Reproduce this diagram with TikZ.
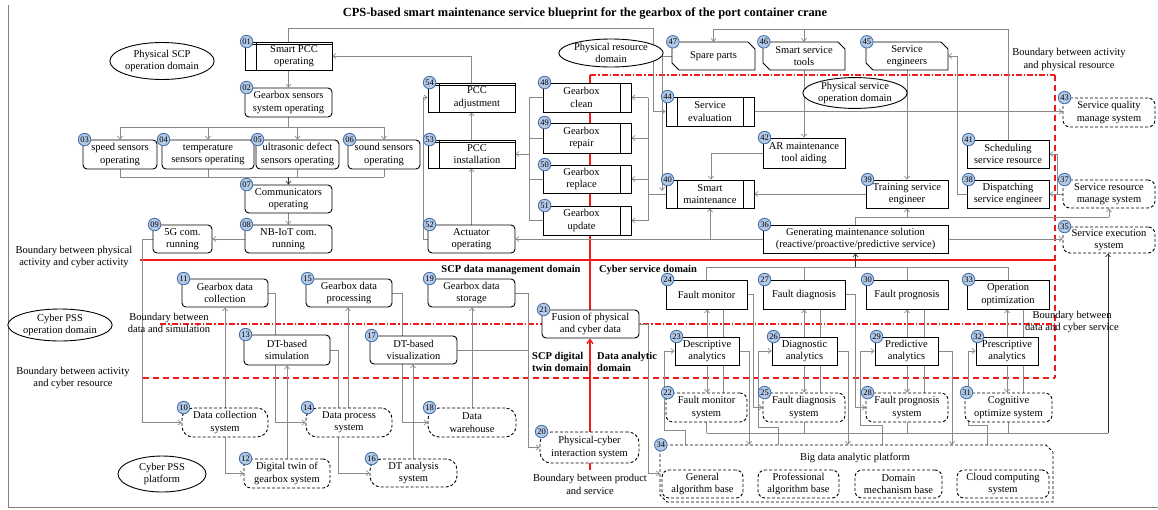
\documentclass[tikz,border=0pt]{standalone}
\usepackage{fontspec}
\setmainfont{Liberation Serif}
\usetikzlibrary{arrows.meta,shapes.geometric,calc}
\pgfdeclarelayer{bg}
\pgfsetlayers{bg,main}
\definecolor{numfill}{HTML}{B3C9E6}
\definecolor{numdraw}{HTML}{3F6DAA}
\definecolor{lgray}{HTML}{8A8A8A}
\definecolor{myred}{HTML}{F21B1B}
\newcommand\myfs{\fontsize{10.5}{12.3}\selectfont}
% [text shift] name, style, x1, y1, x2, y2, text, number
\newcommand\mkbox[9][0]{%
  \node[#3, minimum width={(#6-#4)*1pt}, minimum height={(#7-#5)*1pt}] (#2) at ({(#4+#6)/2},{(#5+#7)/2}) {};
  \node[align=center, font=\myfs, inner sep=0pt] (#2t) at ([xshift=#1pt]#2.center) {#8};
  \node[numc] (#2n) at ([xshift=2pt]#2.north west) {#9};}
\newcommand\mkpbox[7]{%
  \node[#2, minimum width={(#5-#3)*1pt}, minimum height={(#6-#4)*1pt}] (#1) at ({(#3+#5)/2},{(#4+#6)/2}) {#7};}
\newcommand\mkchbox[8]{%
  \draw[#2] (#3,#4) -- ({#5-7},#4) -- (#5,{#4+7}) -- (#5,#6) -- ({#3+7},#6) -- (#3,{#6-7}) -- cycle;
  \node[font=\myfs, align=center, inner sep=0pt, minimum width={(#5-#3)*1pt}, minimum height={(#6-#4)*1pt}] (#1) at ({(#3+#5)/2},{(#4+#6)/2}) {#7};
  \node[numc] (#1n) at ([xshift=1pt]#1.north west) {#8};}
\begin{document}
\begin{tikzpicture}[x=1pt,y=-1pt,
  base/.style={draw=black, line width=0.9pt, fill=white, align=center, inner sep=0pt, font=\myfs},
  rbox/.style={base, rounded corners=4pt},
  sbox/.style={base},
  dbox/.style={base, rounded corners=7pt, dash pattern=on 3pt off 2pt},
  dstad/.style={base, rounded corners=11pt, dash pattern=on 3pt off 2pt},
  pccbox/.style={base, path picture={
     \draw[line width=0.9pt] ([xshift=11pt]path picture bounding box.north west) -- ([xshift=11pt]path picture bounding box.south west);
     \draw[line width=0.9pt] ([yshift=-2.6pt]path picture bounding box.north west) -- ([yshift=-2.6pt]path picture bounding box.north east);}},
  rbar/.style={base, path picture={
     \draw[line width=0.9pt] ([xshift=-11pt]path picture bounding box.north east) -- ([xshift=-11pt]path picture bounding box.south east);}},
  bbar/.style={base, path picture={
     \draw[line width=0.9pt] ([xshift=-11pt]path picture bounding box.north east) -- ([xshift=-11pt]path picture bounding box.south east);
     \draw[line width=0.9pt] ([xshift=11pt]path picture bounding box.north west) -- ([xshift=11pt]path picture bounding box.south west);}},
  chs/.style={draw=black, line width=0.9pt, fill=white},
  chd/.style={chs, dash pattern=on 3pt off 2pt},
  numc/.style={circle, draw=numdraw, fill=numfill, line width=0.8pt, inner sep=0pt, minimum size=12.5pt, font=\fontsize{8.5}{8.5}\selectfont},
  ell/.style={ellipse, draw=black, line width=0.9pt, fill=white, align=center, inner sep=0pt, font=\myfs},
  lab/.style={align=center, font=\myfs, inner sep=0pt},
  blab/.style={align=left, font=\myfs\bfseries, inner sep=0pt},
  conn/.style={draw=lgray, line width=0.7pt},
  arr/.style={conn, -{Straight Barb[length=3pt,width=5pt]}},
  darr/.style={draw=black!80, line width=0.7pt, -{Straight Barb[length=3pt,width=5pt]}},
  redsolid/.style={draw=myred, line width=1.4pt},
  reddash/.style={draw=myred, line width=1.4pt, dash pattern=on 6pt off 4pt},
  reddd/.style={draw=myred, line width=1.2pt, dash pattern=on 6pt off 2pt on 1.5pt off 2pt},
]
\useasboundingbox (0,0) rectangle (1158,509);
\draw[draw=gray, line width=0.8pt] (8,5) -- (8,507) -- (1158,507);

% title and labels
\node[font=\fontsize{12.4}{14}\selectfont\bfseries, inner sep=0pt] (title) at (585,14) {CPS-based smart maintenance service blueprint for the gearbox of the port container crane};
\node[lab] (lb1) at (1069,59.5) {Boundary between activity\\and physical resource};
\node[lab] (lb2) at (74,257) {Boundary between physical\\activity and cyber activity};
\node[lab] (lb3) at (169,323) {Boundary between\\data and simulation};
\node[lab] (lb4) at (73,378) {Boundary between activity\\and cyber resource};
\node[lab] (lb5) at (1072,322) {Boundary between\\data and cyber service};
\node[lab] (lb6) at (590,484.5) {Boundary between product\\and service};
\node[blab] (lb7) at (511,270) {SCP data management domain};
\node[blab] (lb8) at (648,270) {Cyber service domain};
\node[blab, anchor=west] (lb9) at (532,362) {SCP digital\\twin domain};
\node[blab, anchor=west] (lb10) at (597,362) {Data analytic\\domain};

% ellipses
\node[ell, minimum width=88pt, minimum height=37pt] (e1) at (162,61) {Physical SCP\\operation domain};
\node[ell, minimum width=84pt, minimum height=28pt] (e2) at (611,53) {Physical resource\\domain};
\node[ell, minimum width=86pt, minimum height=28pt] (e3) at (855,93) {Physical service\\operation domain};
\node[ell, minimum width=86pt, minimum height=32pt] (e4) at (60,325) {Cyber PSS\\operation domain};
\node[ell, minimum width=88pt, minimum height=36pt] (e5) at (162,474) {Cyber PSS\\platform};

% physical SCP
\mkbox[5.5]{n01}{pccbox}{245}{42}{332}{70}{Smart PCC\\operating}{01}
\mkbox{n02}{rbox}{245}{88}{332}{117}{Gearbox sensors\\system operating}{02}
\mkbox{n03}{rbox}{83}{140}{157}{169}{speed sensors\\operating}{03}
\mkbox{n04}{rbox}{162}{140}{254}{169}{temperature\\sensors operating}{04}
\mkbox{n05}{rbox}{256}{140}{339}{169}{ultrasonic defect\\sensors operating}{05}
\mkbox{n06}{rbox}{348}{140}{420}{169}{sound sensors\\operating}{06}
\mkbox{n07}{rbox}{245}{185}{332}{213}{Communicators\\operating}{07}
\mkbox{n08}{rbox}{245}{225}{332}{253}{NB-IoT com.\\running}{08}
\mkbox{n09}{rbox}{153}{225}{212}{253}{5G com.\\running}{09}
% cyber PSS
\mkbox{n10}{dstad}{182}{408}{268}{437}{Data collection\\system}{10}
\mkbox{n11}{rbox}{182}{279}{268}{307}{Gearbox data\\collection}{11}
\mkbox{n12}{dbox}{244}{459}{330}{488}{Digital twin of\\gearbox system}{12}
\mkbox{n13}{rbox}{244}{335}{330}{365}{DT-based\\simulation}{13}
\mkbox{n14}{dstad}{306}{408}{392}{437}{Data process\\system}{14}
\mkbox{n15}{rbox}{306}{279}{392}{307}{Gearbox data\\processing}{15}
\mkbox{n16}{dstad}{370}{459}{457}{487}{DT analysis\\system}{16}
\mkbox{n17}{rbox}{370}{336}{457}{364}{DT-based\\visualization}{17}
\mkbox{n18}{dstad}{428}{408}{516}{437}{Data\\warehouse}{18}
\mkbox{n19}{rbox}{428}{279}{515}{307}{Gearbox data\\storage}{19}
\mkbox{n20}{dstad}{540}{432}{639}{463}{Physical-cyber\\interaction system}{20}
\mkbox{n21}{rbox}{542}{310}{639}{338}{Fusion of physical\\and cyber data}{21}
% cyber service
\mkbox{n22}{dbox}{666}{393}{747}{422}{Fault monitor\\system}{22}
\mkbox{n23}{sbox}{675}{337}{739}{365}{Descriptive\\analytics}{23}
\mkbox{n24}{sbox}{666}{280}{747}{309}{Fault monitor}{24}
\mkbox{n25}{dbox}{763}{393}{845}{422}{Fault diagnosis\\system}{25}
\mkbox{n26}{sbox}{772}{337}{837}{365}{Diagnostic\\analytics}{26}
\mkbox{n27}{sbox}{763}{280}{845}{309}{Fault diagnosis}{27}
\mkbox{n28}{dbox}{866}{393}{948}{422}{Fault prognosis\\system}{28}
\mkbox{n29}{sbox}{875}{337}{938}{365}{Predictive\\analytics}{29}
\mkbox{n30}{sbox}{866}{280}{948}{309}{Fault prognosis}{30}
\mkbox{n31}{dbox}{965}{393}{1052}{422}{Cognitive\\optimize system}{31}
\mkbox{n32}{sbox}{976}{337}{1038}{365}{Prescriptive\\analytics}{32}
\mkbox{n33}{sbox}{967}{280}{1049}{309}{Operation\\optimization}{33}
\mkchbox{n34}{chd}{660}{445}{1053}{502}{}{34}
\node[lab] (n34t) at (855,458) {Big data analytic platform};
\mkpbox{nga}{dbox}{662}{470}{743}{498}{General\\algorithm base}
\mkpbox{npa}{dbox}{758}{470}{839}{498}{Professional\\algorithm base}
\mkpbox{ndm}{dbox}{855}{470}{942}{498}{Domain\\mechanism base}
\mkpbox{ncc}{dbox}{957}{470}{1049}{498}{Cloud computing\\system}
% physical service
\mkbox{n35}{dbox}{1063}{227}{1155}{253}{Service execution\\system}{35}
\mkbox{n36}{sbox}{763}{225}{948}{253}{Generating maintenance solution\\(reactive/proactive/predictive service)}{36}
\mkbox{n37}{dbox}{1063}{180}{1155}{208}{Service resource\\manage system}{37}
\mkbox{n38}{sbox}{967}{180}{1049}{208}{Dispatching\\service engineer}{38}
\mkbox{n39}{sbox}{866}{180}{948}{208}{Training service\\engineer}{39}
\mkbox{n40}{bbar}{666}{180}{754}{208}{Smart\\maintenance}{40}
\mkbox{n41}{sbox}{967}{140}{1049}{168}{Scheduling\\service resource}{41}
\mkbox{n42}{sbox}{763}{138}{845}{168}{AR maintenance\\tool aiding}{42}
\mkbox{n43}{dbox}{1063}{98}{1155}{127}{Service quality\\manage system}{43}
\mkbox{n44}{bbar}{666}{97}{754}{126}{Service\\evaluation}{44}
\mkchbox{n45}{chs}{866}{42}{948}{70}{Service\\engineers}{45}
\mkchbox{n46}{chs}{763}{42}{845}{70}{Smart service\\tools}{46}
\mkchbox{n47}{chs}{672}{42}{755}{70}{Spare parts}{47}
\mkbox[-5.5]{n48}{rbar}{543}{83}{631}{112}{Gearbox\\clean}{48}
\mkbox[-5.5]{n49}{rbar}{543}{123}{631}{153}{Gearbox\\repair}{49}
\mkbox[-5.5]{n50}{rbar}{543}{165}{631}{193}{Gearbox\\replace}{50}
\mkbox[-5.5]{n51}{rbar}{543}{206}{631}{235}{Gearbox\\update}{51}
\mkbox{n52}{rbox}{428}{225}{515}{253}{Actuator\\operating}{52}
\mkbox[5.5]{n53}{pccbox}{428}{140}{515}{168}{PCC\\installation}{53}
\mkbox[5.5]{n54}{pccbox}{428}{83}{515}{112}{PCC\\adjustment}{54}

\begin{pgfonlayer}{bg}
% red boundaries
\draw[redsolid] (590,75) -- (590,312);
\draw[reddd] (590,75) -- (1055,75);
\draw[reddash] (1055,75) -- (1055,378);
\draw[redsolid] (140,260) -- (1055,260);
\draw[reddd] (160,324) -- (1055,324);
\draw[reddash] (143,378) -- (1055,378);
\draw[redsolid] (590,463) -- (590,470);
\draw[redsolid, -{Straight Barb[length=4pt,width=6pt]}] (n20.north -| 590,0) -- (n21.south -| 590,0);
% physical SCP
\draw[arr] (n01.south) -- (n02.north);
\draw[conn] (n02.south) -- (n02.south |- 0,127);
\draw[conn] (n03.north |- 0,127) -- (n06.north |- 0,127);
\foreach \k in {03,04,05,06} {
  \draw[arr] (n\k.north |- 0,127) -- (n\k.north);
  \draw[conn] (n\k.south) -- (n\k.south |- 0,177);}
\draw[conn] (n03.south |- 0,177) -- (n06.south |- 0,177);
\draw[darr] (n07.north |- 0,177) -- (n07.north);
\draw[arr] (n07.south) -- (n08.north);
\draw[arr] (n08.west) -- (n09.east);
\draw[arr] (n09.west) -- (142,239) |- (n10.west);
% cyber PSS
\draw[arr] (n10.north) -- (n11.south);
\draw[arr] (n10.south) |- (n12.west);
\draw[arr] (n11.east) -- (275,293) |- (n14.west);
\draw[arr] (n12.north -| 287,0) -- (n13.south -| 287,0);
\draw[conn] (n13.east) -| (n14.north -| 338,0);
\draw[arr] (n14.north -| 348,0) -- (n15.south -| 348,0);
\draw[arr] (n14.south -| 338,0) |- (n16.west);
\draw[arr] (n15.east) -- (402,293) |- (n18.west);
\draw[arr] (n16.north -| 413,0) -- (n17.south -| 413,0);
\draw[arr] (n18.north -| 472,0) -- (n19.south -| 472,0);
\draw[conn] (n17.east) -- (528,350);
\draw[arr] (n19.east) -- (528,293) |- (n20.west);
\draw[arr] (n21.east) -- (648,324) |- (n34.west);
% physical resource / service
\draw[arr] (n01.north) |- (653,28) |- (n44.west);
\draw[arr] (n54.north) |- (n01.east);
\draw[arr] (n53.north) -- (n54.south);
\draw[arr] (n52.north) -- (n53.south);
\draw[arr] (n52.west) -- (423,239) |- (n54.west);
\foreach \k in {48,49,50,51} {
  \draw[conn] (n\k.west) -- (n\k.west -| 529,0);
  \draw[arr] (n\k.east -| 648,0) -- (n\k.east);}
\draw[conn] (n48.west -| 529,0) -- (n51.west -| 529,0);
\draw[arr] (n53.east -| 529,0) -- (n53.east);
\draw[conn] (n48.east -| 648,0) -- (n51.east -| 648,0);
\draw[conn] (n40.west) -- (n40.west -| 648,0);
\draw[arr] (n47.west) -- (662,56) -- (662,191);
\draw[conn] (n41.north) |- (n47.north |- 0,29);
\draw[arr] (n47.north |- 0,29) -- (n47.north);
\draw[arr] (n46.north |- 0,29) -- (n46.north);
\draw[arr] (n46.south) -- (n42.north);
\draw[arr] (n45.south) -- (n39.north);
\draw[arr] (n38.west) -- (957,194) |- (n45.east);
\draw[arr] (n44.east) -- (n44.east -| n43.west);
\draw[arr] (n37.west) -- (n38.east);
\draw[arr] (1057,194) |- (n41.east);
\draw[arr] (n42.west) -| (n40.north -| 711,0);
\draw[arr] (n39.west) -- (n40.east);
\draw[arr] (n36.west) -- (n52.east);
\draw[arr] (n40.south |- n36.west) -- (n40.south);
\draw[conn] (n36.north) |- (n37.south |- 0,217);
\draw[arr] (n39.south |- 0,217) -- (n39.south);
\draw[arr] (n37.south |- 0,217) -- (n37.south);
\draw[arr] (n36.east) -- (n36.east -| n35.west);
% cyber service
\draw[conn] (n24.north) -- (n24.north |- 0,267) -- (n33.north |- 0,267) -- (n33.north);
\draw[conn] (n27.north) -- (n27.north |- 0,267);
\draw[conn] (n30.north) -- (n30.north |- 0,267);
\draw[darr] (n36.south |- 0,267) -- (n36.south);
\foreach \s/\a/\t/\xa/\xp in {22/23/24/707/723, 25/26/27/804/820, 28/29/30/907/924, 31/32/33/1007/1023} {
  \draw[arr] (n\a.north -| \xa,0) -- (n\t.south -| \xa,0);
  \draw[arr] (n\a.south -| \xa,0) -- (n\s.north -| \xa,0);
  \draw[conn] (n\t.south -| \xp,0) -- (n\a.north -| \xp,0);
  \draw[conn] (n\a.south -| \xp,0) -- (n\s.north -| \xp,0);}
\foreach \a/\xr in {23/749, 26/848, 29/952} {
  \draw[arr] (n\a.east) -- (\xr,351) -- (n34.north -| \xr,0);}
\foreach \a/\xl/\xb/\yb in {23/664/685/430, 26/758/778/427, 29/860/882/425, 32/968/987/425} {
  \draw[arr] (n34.north -| \xb,0) -- (\xb,\yb) -- (\xl,\yb) |- (n\a.west);}
\draw[arr] (n24.east) -- (753,294.5) |- (n25.west);
\draw[arr] (n27.east) -- (855,294.5) |- (n28.west);
\foreach \s in {22,25,28,31} {\draw[conn] (n\s.south) -- (n\s.south |- 0,433);}
\draw[conn] (n22.south |- 0,433) -- (1108,433);
\draw[darr] (1108,433) -- (n35.south -| 1108,0);
\end{pgfonlayer}
\end{tikzpicture}
\end{document}
